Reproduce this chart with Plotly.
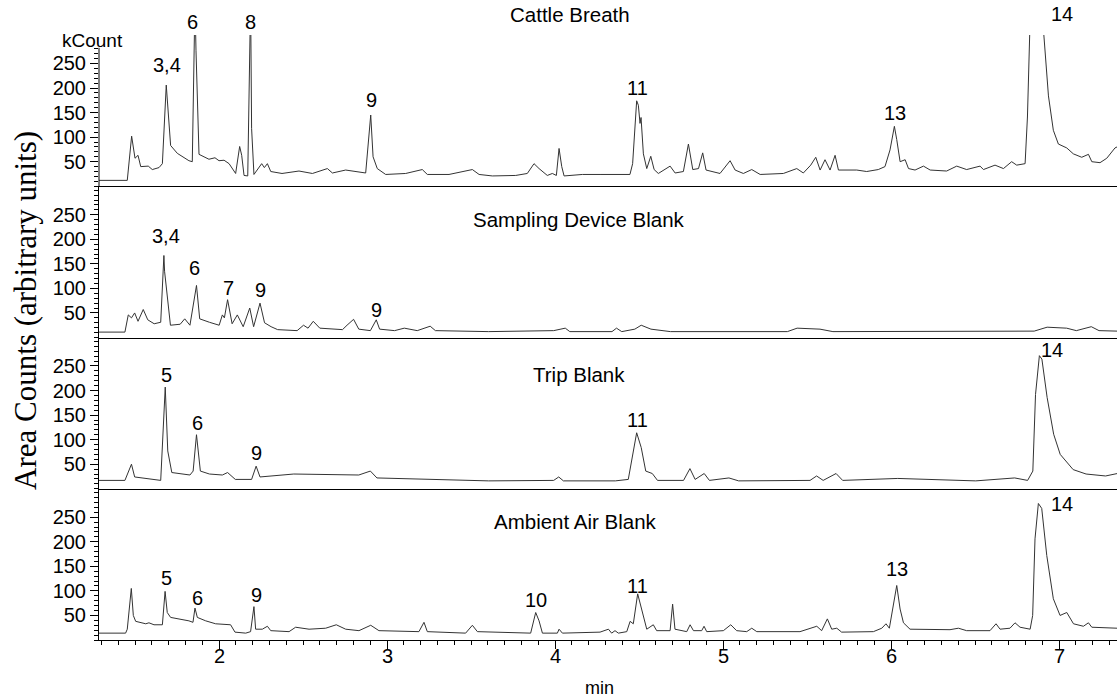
import plotly.graph_objects as go
from plotly.subplots import make_subplots

# ---------------- data (time in min, signal in kCount) ----------------
cattle_t = [1.286, 1.454, 1.480, 1.500, 1.518, 1.534, 1.579, 1.603, 1.643, 1.663, 1.686, 1.698, 1.712,
            1.752, 1.821, 1.841, 1.857, 1.863, 1.881, 1.940, 1.976, 2.000, 2.030, 2.060, 2.099, 2.123,
            2.135, 2.149, 2.171, 2.188, 2.191, 2.194, 2.208, 2.254, 2.270, 2.288, 2.308, 2.375, 2.476,
            2.556, 2.645, 2.675, 2.754, 2.873, 2.903, 2.917, 2.942, 2.992, 3.111, 3.210, 3.240, 3.369,
            3.508, 3.548, 3.627, 3.766, 3.835, 3.875, 3.905, 3.954, 3.984, 4.008, 4.024, 4.040, 4.054,
            4.163, 4.268, 4.367, 4.446, 4.462, 4.486, 4.496, 4.506, 4.512, 4.526, 4.546, 4.570, 4.590,
            4.615, 4.685, 4.715, 4.764, 4.794, 4.820, 4.854, 4.879, 4.899, 4.982, 5.042, 5.072, 5.121,
            5.171, 5.221, 5.359, 5.439, 5.478, 5.522, 5.552, 5.578, 5.607, 5.637, 5.667, 5.687, 5.796,
            5.855, 5.924, 5.964, 5.994, 6.020, 6.034, 6.054, 6.084, 6.104, 6.143, 6.193, 6.233, 6.331,
            6.391, 6.450, 6.530, 6.550, 6.619, 6.669, 6.718, 6.748, 6.798, 6.812, 6.827, 6.860, 6.880,
            6.907, 6.937, 6.966, 6.996, 7.046, 7.085, 7.135, 7.175, 7.195, 7.244, 7.284, 7.333, 7.345]
cattle_v = [12, 12, 102, 57, 63, 40, 41, 34, 38, 46, 206, 141, 83,
            67, 52, 50, 380, 277, 65, 55, 58, 52, 53, 46, 26, 81,
            63, 22, 21, 380, 247, 118, 24, 46, 38, 46, 30, 26, 31,
            26, 36, 27, 33, 27, 145, 60, 36, 24, 26, 34, 24, 24,
            34, 24, 21, 22, 26, 46, 36, 22, 26, 22, 77, 40, 21,
            24, 24, 24, 24, 46, 174, 165, 128, 140, 66, 36, 61, 34,
            26, 41, 27, 30, 86, 34, 36, 68, 33, 26, 52, 33, 26,
            34, 24, 26, 36, 27, 43, 59, 33, 54, 33, 63, 33, 33,
            30, 34, 40, 74, 122, 95, 50, 54, 36, 33, 41, 33, 31,
            41, 34, 41, 34, 43, 36, 50, 43, 46, 141, 330, 480, 500,
            320, 184, 114, 86, 78, 66, 59, 65, 50, 48, 57, 78, 80]

device_t = [1.286, 1.440, 1.460, 1.479, 1.498, 1.518, 1.549, 1.576, 1.614, 1.653, 1.672, 1.676, 1.711,
            1.769, 1.796, 1.827, 1.866, 1.885, 1.943, 2.001, 2.020, 2.032, 2.051, 2.078, 2.109, 2.144,
            2.183, 2.206, 2.244, 2.271, 2.310, 2.349, 2.465, 2.503, 2.530, 2.561, 2.600, 2.735, 2.762,
            2.801, 2.832, 2.901, 2.936, 2.956, 3.045, 3.103, 3.180, 3.257, 3.288, 3.605, 3.992, 4.061,
            4.088, 4.339, 4.366, 4.397, 4.475, 4.513, 4.571, 4.687, 5.383, 5.441, 5.577, 5.654, 6.852,
            6.929, 7.045, 7.103, 7.192, 7.238, 7.345]
device_v = [11, 11, 46, 40, 50, 33, 57, 36, 28, 31, 167, 135, 25,
            27, 38, 25, 106, 38, 31, 25, 46, 40, 77, 28, 46, 22,
            60, 22, 70, 30, 22, 16, 14, 25, 19, 33, 19, 16, 25,
            37, 17, 14, 36, 17, 14, 19, 14, 23, 14, 12, 14, 19,
            12, 12, 19, 12, 17, 25, 17, 12, 12, 19, 17, 12, 13,
            21, 19, 14, 22, 14, 13]

trip_t = [1.286, 1.440, 1.479, 1.498, 1.653, 1.680, 1.695, 1.719, 1.827, 1.846, 1.866, 1.889, 1.943,
          2.020, 2.051, 2.097, 2.194, 2.221, 2.244, 2.445, 2.832, 2.901, 2.940, 3.218, 3.605, 3.992,
          4.022, 4.050, 4.359, 4.436, 4.486, 4.513, 4.540, 4.579, 4.610, 4.765, 4.803, 4.834, 4.888,
          4.919, 5.035, 5.093, 5.518, 5.557, 5.596, 5.673, 5.712, 6.040, 6.504, 6.736, 6.813, 6.844,
          6.860, 6.883, 6.898, 6.929, 6.968, 7.007, 7.084, 7.161, 7.277, 7.347]
trip_v = [17, 17, 50, 24, 17, 207, 77, 33, 28, 36, 110, 36, 30,
          28, 33, 19, 19, 46, 24, 30, 28, 36, 22, 19, 16, 17,
          24, 16, 16, 19, 114, 84, 36, 31, 17, 17, 41, 19, 31,
          17, 22, 16, 17, 26, 17, 31, 17, 21, 16, 22, 17, 36,
          192, 271, 264, 186, 111, 70, 39, 30, 26, 31]

ambient_t = [1.286, 1.444, 1.454, 1.478, 1.490, 1.504, 1.564, 1.583, 1.613, 1.663, 1.679, 1.692, 1.712,
             1.762, 1.821, 1.845, 1.857, 1.871, 1.921, 1.980, 2.040, 2.069, 2.095, 2.159, 2.188, 2.208,
             2.218, 2.258, 2.288, 2.308, 2.417, 2.456, 2.536, 2.635, 2.698, 2.754, 2.833, 2.903, 2.952,
             3.190, 3.220, 3.240, 3.468, 3.508, 3.538, 3.855, 3.885, 3.905, 3.925, 4.014, 4.024, 4.044,
             4.268, 4.318, 4.337, 4.357, 4.377, 4.427, 4.447, 4.466, 4.492, 4.516, 4.546, 4.585, 4.605,
             4.685, 4.700, 4.714, 4.784, 4.804, 4.824, 4.873, 4.887, 4.903, 5.002, 5.046, 5.081, 5.141,
             5.171, 5.201, 5.458, 5.558, 5.587, 5.621, 5.647, 5.677, 5.706, 5.895, 5.945, 5.970, 5.990,
             6.034, 6.054, 6.074, 6.113, 6.351, 6.401, 6.450, 6.589, 6.625, 6.649, 6.708, 6.738, 6.768,
             6.828, 6.843, 6.857, 6.877, 6.897, 6.927, 6.966, 7.006, 7.046, 7.086, 7.145, 7.175, 7.195,
             7.345]
ambient_v = [14, 14, 22, 105, 50, 38, 33, 35, 31, 31, 99, 56, 46,
             43, 39, 36, 65, 46, 39, 33, 31, 31, 16, 14, 17, 68,
             22, 22, 28, 19, 17, 26, 22, 24, 31, 22, 19, 30, 19,
             17, 36, 17, 14, 30, 17, 14, 56, 39, 14, 14, 22, 14,
             16, 22, 14, 19, 14, 17, 38, 33, 94, 60, 22, 31, 19,
             19, 73, 22, 17, 31, 19, 19, 28, 17, 19, 31, 19, 17,
             24, 17, 17, 28, 19, 43, 22, 24, 16, 17, 24, 33, 24,
             111, 63, 35, 22, 21, 24, 19, 19, 33, 22, 24, 35, 26,
             22, 50, 206, 278, 268, 172, 84, 50, 56, 33, 28, 35, 26,
             24]

panel_titles = ["Cattle Breath", "Sampling Device Blank", "Trip Blank", "Ambient Air Blank"]
title_t = [4.09, 4.14, 4.14, 4.12]
title_v = [350, 241, 233, 241]

cattle_lbl = ["3,4", "6", "8", "9", "11", "13", "14"]
cattle_lbl_t = [1.690, 1.845, 2.190, 2.905, 4.488, 6.024, 7.018]
cattle_lbl_v = [247, 335, 335, 175, 200, 149, 350]

device_lbl = ["3,4", "6", "7", "9", "9"]
device_lbl_t = [1.685, 1.857, 2.054, 2.244, 2.940]
device_lbl_v = [206, 141, 100, 96, 57]

trip_lbl = ["5", "6", "9", "11", "14"]
trip_lbl_t = [1.685, 1.869, 2.226, 4.488, 6.958]
trip_lbl_v = [231, 133, 73, 141, 282]

ambient_lbl = ["5", "6", "9", "10", "11", "13", "14"]
ambient_lbl_t = [1.685, 1.869, 2.226, 3.887, 4.488, 6.036, 7.018]
ambient_lbl_v = [126, 86, 92, 82, 110, 145, 277]

y_ticks = [50, 100, 150, 200, 250]
x_ticks = [2, 3, 4, 5, 6, 7]

# ---------------- figure ----------------
SANS = "Liberation Sans, Arial, sans-serif"
SERIF = "Liberation Serif, Times New Roman, serif"
LINE = "#333333"
YMAX = 308
N = 4

series = [(cattle_t, cattle_v), (device_t, device_v), (trip_t, trip_v), (ambient_t, ambient_v)]
labels = [(cattle_lbl, cattle_lbl_t, cattle_lbl_v), (device_lbl, device_lbl_t, device_lbl_v),
          (trip_lbl, trip_lbl_t, trip_lbl_v), (ambient_lbl, ambient_lbl_t, ambient_lbl_v)]

fig = make_subplots(rows=N, cols=1, shared_xaxes=True, vertical_spacing=0)

for i, (t, v) in enumerate(series):
    fig.add_trace(go.Scatter(x=t, y=v, mode="lines", line=dict(color=LINE, width=1),
                             hoverinfo="skip", showlegend=False), row=i + 1, col=1)

for i in range(N):
    yname = "yaxis" if i == 0 else f"yaxis{i + 1}"
    minor_vals = list(range(0, 290 if i == 0 else 310, 10))
    fig.layout[yname].update(
        range=[0, YMAX], tickmode="array", tickvals=y_ticks,
        ticks="outside", ticklen=8, tickcolor="black", tickwidth=1,
        showline=(i != 0), linecolor="black", linewidth=1,
        showgrid=False, zeroline=False,
        tickfont=dict(family=SANS, size=20, color="black"),
        minor=dict(tickmode="array", tickvals=minor_vals, ticks="outside", ticklen=4,
                   tickcolor="black", showgrid=False),
    )
    xname = "xaxis" if i == 0 else f"xaxis{i + 1}"
    fig.layout[xname].update(range=[1.2857, 7.345], showline=True, linecolor="black", linewidth=1,
                             showgrid=False, zeroline=False)

# bottom axis: ticks from the axis, labels placed as annotations below (closer to the axis)
fig.layout.xaxis4.update(
    tickmode="array", tickvals=x_ticks, ticks="outside", ticklen=8, tickcolor="black",
    showticklabels=False,
    minor=dict(tickmode="linear", tick0=0, dtick=0.1, ticks="outside", ticklen=4,
               tickcolor="black", showgrid=False),
)
for xn in ["xaxis", "xaxis2", "xaxis3"]:
    fig.layout[xn].update(ticks="", showticklabels=False)

# panel-1 y axis line stops below the top of the panel
fig.add_shape(type="line", xref="paper", yref="y", x0=0, x1=0, y0=0, y1=282,
              line=dict(color="black", width=1))


def yref_for(i, value):
    """Annotations above an axis range are hidden, so place those in the panel's domain coordinates."""
    name = "y" if i == 0 else f"y{i + 1}"
    if value <= YMAX:
        return name, value
    return name + " domain", value / YMAX


ann = []
for i in range(N):
    r, yy = yref_for(i, title_v[i])
    ann.append(dict(x=title_t[i], y=yy, xref="x", yref=r, text=panel_titles[i],
                    xanchor="center", yanchor="middle", showarrow=False,
                    font=dict(family=SANS, size=20.5, color="black")))
    txt, tt, vv = labels[i]
    for s, a, b in zip(txt, tt, vv):
        r, yy = yref_for(i, b)
        ann.append(dict(x=a, y=yy, xref="x", yref=r, text=s, showarrow=False,
                        xanchor="center", yanchor="middle",
                        font=dict(family=SANS, size=20, color="black")))

for xt in x_ticks:
    ann.append(dict(x=xt, y=-0.0264, xref="x", yref="paper", text=str(xt), showarrow=False,
                    xanchor="center", yanchor="middle", font=dict(family=SANS, size=20, color="black")))

ann.append(dict(x=-0.0059, y=0.9917, xref="paper", yref="paper", text="kCount", showarrow=False,
                xanchor="center", yanchor="middle", font=dict(family=SANS, size=19, color="black")))
ann.append(dict(x=0.492, y=-0.080, xref="paper", yref="paper", text="min", showarrow=False,
                xanchor="center", yanchor="middle", font=dict(family=SANS, size=18, color="black")))
ann.append(dict(x=-0.0717, y=0.544, xref="paper", yref="paper", text="Area Counts (arbitrary units)",
                textangle=-90, xanchor="center", yanchor="middle", showarrow=False,
                font=dict(family=SERIF, size=31, color="black")))

fig.update_layout(
    width=1117, height=699,
    margin=dict(l=99, r=0, t=35, b=59),
    paper_bgcolor="white", plot_bgcolor="white",
    annotations=ann, showlegend=False,
)

fig.write_html("out.html", config={"displayModeBar": False},
               post_script="document.body.style.margin='0';")
